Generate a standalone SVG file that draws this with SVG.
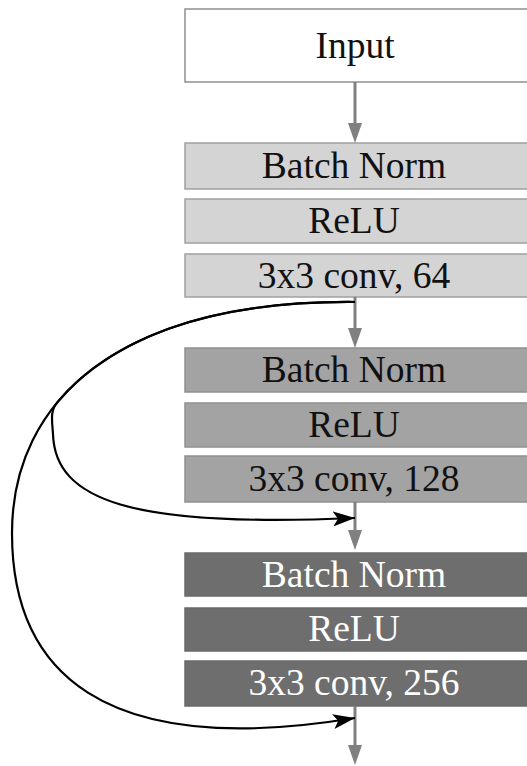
<svg xmlns="http://www.w3.org/2000/svg" width="527" height="766" viewBox="0 0 527 766">
<style>
text{font-family:"Liberation Serif","Times New Roman",serif;font-size:37.5px;text-anchor:middle}
.w{fill:#fff;stroke:#909090;stroke-width:1.5}
.l{fill:#d4d4d4;stroke:#a0a0a0;stroke-width:1.5}
.m{fill:#a3a3a3;stroke:#909090;stroke-width:1.5}
.d{fill:#6e6e6e;stroke:#6a6a6a;stroke-width:1.5}
.tk{fill:#111}
.tw{fill:#fff}
.g{stroke:#808080;stroke-width:3;fill:none}
.k{stroke:#000;stroke-width:2.2;fill:none;marker-end:url(#ka)}
</style>
<defs>
<marker id="ka" markerUnits="userSpaceOnUse" markerWidth="22" markerHeight="15" refX="22" refY="7.5" orient="auto" viewBox="0 0 22 15"><path d="M0,0 L22,7.5 L0,15 L5,7.5 Z" fill="#000"/></marker>
</defs>
<rect width="527" height="766" fill="#fff"/>
<g id="input"><rect class="w" x="185" y="9" width="350" height="73"/><text class="tk" x="355" y="58">Input</text></g>
<g id="bn1"><rect class="l" x="185" y="143" width="350" height="46"/><text class="tk" x="354" y="178">Batch Norm</text></g>
<g id="relu1"><rect class="l" x="185" y="199" width="350" height="44"/><text class="tk" x="354" y="233">ReLU</text></g>
<g id="conv64"><rect class="l" x="185" y="254" width="350" height="43"/><text class="tk" x="354" y="288">3x3 conv, 64</text></g>
<g id="bn2"><rect class="m" x="185" y="348" width="350" height="44"/><text class="tk" x="354" y="382">Batch Norm</text></g>
<g id="relu2"><rect class="m" x="185" y="403" width="350" height="44"/><text class="tk" x="354" y="437">ReLU</text></g>
<g id="conv128"><rect class="m" x="185" y="456" width="350" height="46"/><text class="tk" x="354" y="491">3x3 conv, 128</text></g>
<g id="bn3"><rect class="d" x="185" y="553" width="350" height="43"/><text class="tw" x="354" y="587">Batch Norm</text></g>
<g id="relu3"><rect class="d" x="185" y="608" width="350" height="43"/><text class="tw" x="354" y="641">ReLU</text></g>
<g id="conv256"><rect class="d" x="185" y="661" width="350" height="45"/><text class="tw" x="354" y="695">3x3 conv, 256</text></g>
<g id="connectors">
<line class="g" x1="355" y1="82" x2="355" y2="125"/><path d="M348,123 L362,123 L355,143 Z" fill="#808080"/>
<line class="g" x1="355" y1="297" x2="355" y2="330"/><path d="M348,328 L362,328 L355,348 Z" fill="#808080"/>
<line class="g" x1="355" y1="502" x2="355" y2="533"/><path d="M348,530 L362,530 L355,550 Z" fill="#808080"/>
<line class="g" x1="355" y1="706" x2="355" y2="748"/><path d="M348,745 L362,745 L355,765 Z" fill="#808080"/>
<path class="k" d="M355,302 C206.95,300.74 109.3,339.96 57.3,402.4 C50,411 52,420 53,434 C55,500 130,528 355,518"/>
<path class="k" d="M355,302 C120,300 12,400 12,533 C12,670 100,760 355,718"/>
</g>
</svg>
